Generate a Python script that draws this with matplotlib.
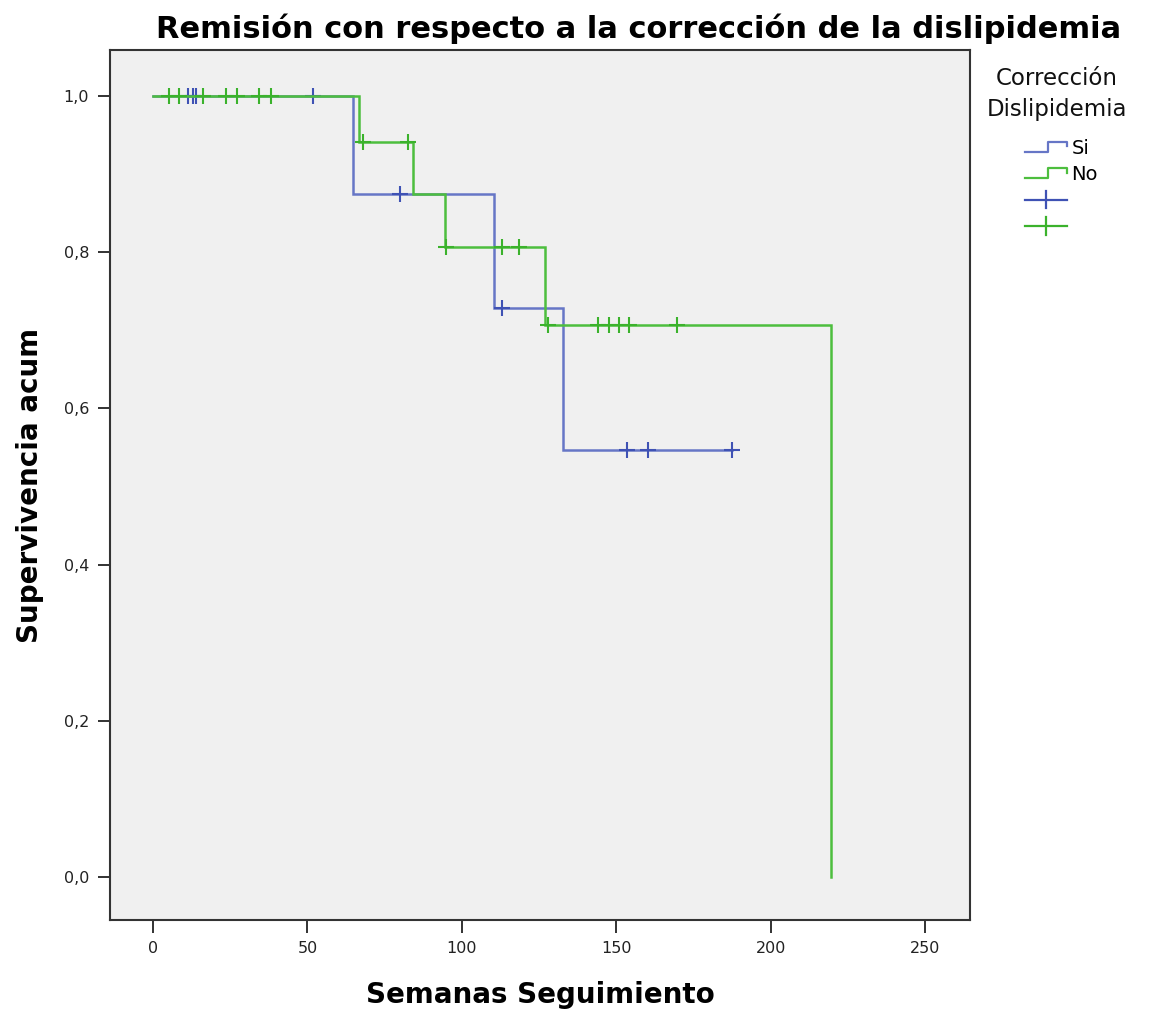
import numpy as np
import matplotlib
matplotlib.use("Agg")
import matplotlib.pyplot as plt
from matplotlib.lines import Line2D
from matplotlib.legend_handler import HandlerBase

# ---------------- data ----------------
title = "Remisión con respecto a la corrección de la dislipidemia"
xlabel = "Semanas Seguimiento"
ylabel = "Supervivencia acum"
legend_title = "Corrección\nDislipidemia"
group_labels = ["Si", "No"]

# Group "Si"
si_times = [0.0, 64.7, 110.5, 132.7]
si_surv = [1.0, 0.875, 0.729, 0.547]
si_end = 187.4
si_censored = [11.3, 12.9, 13.8, 51.8, 80.0, 113.0, 153.3, 160.2, 187.4]

# Group "No"
no_times = [0.0, 66.7, 84.1, 94.6, 126.9, 219.4]
no_surv = [1.0, 0.941, 0.875, 0.807, 0.707, 0.0]
no_end = 219.4
no_censored = [5.2, 8.4, 16.2, 23.6, 27.2, 34.3, 38.2, 68.0, 82.5, 94.8,
               113.0, 118.5, 128.0, 144.0, 147.6, 150.9, 154.0, 169.6]

xticks = [0, 50, 100, 150, 200, 250]
yticks = [0.0, 0.2, 0.4, 0.6, 0.8, 1.0]
ytick_labels = ["0,0", "0,2", "0,4", "0,6", "0,8", "1,0"]

# ---------------- style ----------------
blue_line = "#6676C6"
blue_mark = "#3F52B4"
green_line = "#4DBE3E"
green_mark = "#3BB22C"

fig = plt.figure(figsize=(11.59, 10.17), dpi=100)
ax = fig.add_axes([0.0949, 0.0954, 0.742, 0.8554])
ax.set_facecolor("#F0F0F0")


def km_level(times, surv, t):
    idx = np.searchsorted(np.asarray(times), t, side="right") - 1
    return np.asarray(surv)[idx]


def draw_group(times, surv, end, censored, lc, mc):
    xs = list(times) + [end]
    ys = list(surv) + [surv[-1]]
    ax.step(xs, ys, where="post", color=lc, lw=1.8, solid_joinstyle="miter")
    cy = [km_level(times, surv, t) for t in censored]
    ax.plot(censored, cy, linestyle="none", marker="+", markersize=11,
            markeredgewidth=1.5, color=mc)


draw_group(si_times, si_surv, si_end, si_censored, blue_line, blue_mark)
draw_group(no_times, no_surv, no_end, no_censored, green_line, green_mark)

ax.set_xlim(-13.9, 264.4)
ax.set_ylim(-0.055, 1.059)
ax.set_xticks(xticks)
ax.set_xticklabels([str(v) for v in xticks])
ax.set_yticks(yticks)
ax.set_yticklabels(ytick_labels)
ax.tick_params(axis="both", direction="out", length=9, width=1.3,
               labelsize=11.5, colors="#222222", pad=6)
for sp in ax.spines.values():
    sp.set_color("#333333")
    sp.set_linewidth(1.5)

ax.set_xlabel(xlabel, fontsize=20, fontweight="bold", labelpad=18)
ax.set_ylabel(ylabel, fontsize=20, fontweight="bold", labelpad=14)
fig.text(0.551, 0.972, title, ha="center", va="center", fontsize=22,
         fontweight="bold")


# ---------------- legend ----------------
class StepHandler(HandlerBase):
    def create_artists(self, legend, orig_handle, xdescent, ydescent,
                       width, height, fontsize, trans):
        x0, y0 = -xdescent, -ydescent
        xm = x0 + width * 0.55
        xs = [x0, xm, xm, x0 + width, x0 + width]
        ys = [y0 + height * 0.15, y0 + height * 0.15, y0 + height * 0.85,
              y0 + height * 0.85, y0 + height * 0.55]
        ln = Line2D(xs, ys, color=orig_handle.get_color(), lw=1.6,
                    transform=trans)
        return [ln]


class CrossHandler(HandlerBase):
    def create_artists(self, legend, orig_handle, xdescent, ydescent,
                       width, height, fontsize, trans):
        x0, y0 = -xdescent, -ydescent
        xm = x0 + width * 0.5
        h = Line2D([x0, x0 + width], [y0 + height * 0.5] * 2,
                   color=orig_handle.get_color(), lw=1.6, transform=trans)
        v = Line2D([xm, xm], [y0 - height * 0.15, y0 + height * 1.15],
                   color=orig_handle.get_color(), lw=1.6, transform=trans)
        return [h, v]


fig.text(1057 / 1159, 1 - 94 / 1017, legend_title, ha="center", va="center",
         fontsize=16.5, linespacing=1.4, color="#111111")

h_si = Line2D([], [], color=blue_line)
h_no = Line2D([], [], color=green_line)
c_si = Line2D([], [], color=blue_mark)
c_no = Line2D([], [], color=green_mark)

leg = fig.legend([h_si, h_no, c_si, c_no], group_labels + ["", ""],
                 handler_map={h_si: StepHandler(), h_no: StepHandler(),
                              c_si: CrossHandler(), c_no: CrossHandler()},
                 loc="upper left", bbox_to_anchor=(1011 / 1159, 1 - 125 / 1017),
                 frameon=False, fontsize=14, handlelength=2.2,
                 handletextpad=0.2, labelspacing=0.38, borderpad=0.2)

fig.savefig("out.png", dpi=100, facecolor="white")
